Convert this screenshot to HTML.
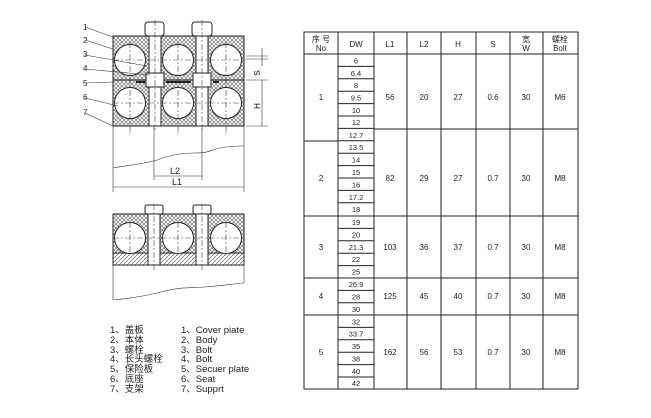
<!DOCTYPE html>
<html><head><meta charset="utf-8"><style>
body{margin:0;background:#fff;width:651px;height:418px;overflow:hidden;position:relative;font-family:"Liberation Sans","Noto Sans CJK SC",sans-serif;}
svg{position:absolute;left:0;top:0}
</style></head><body>
<svg width="651" height="418" viewBox="0 0 651 418" font-family="Liberation Sans, Noto Sans CJK SC, sans-serif">
<defs>
<pattern id="x" width="4" height="4" patternUnits="userSpaceOnUse">
<rect width="4" height="4" fill="#fff"/>
<path d="M0,0L4,4M4,0L0,4" stroke="#777" stroke-width="0.7"/>
</pattern>
<pattern id="d" width="4" height="4" patternUnits="userSpaceOnUse">
<rect width="4" height="4" fill="#fff"/>
<path d="M0,4L4,0" stroke="#666" stroke-width="0.7"/>
</pattern>
</defs>
<!-- upper block -->
<g stroke="#222" stroke-width="1">
<rect x="113" y="36" width="131" height="90" fill="url(#x)"/>
<line x1="113" y1="80" x2="244" y2="80"/>
<g fill="#fff">
<circle cx="130" cy="60" r="15.5"/><circle cx="178" cy="60" r="15.5"/><circle cx="226" cy="60" r="15.5"/>
<circle cx="130" cy="103" r="15.5"/><circle cx="178" cy="103" r="15.5"/><circle cx="226" cy="103" r="15.5"/>
<rect x="149" y="36" width="12" height="90"/><rect x="196" y="36" width="12" height="90"/>
<rect x="145" y="22" width="19" height="14" rx="3"/><rect x="192" y="22" width="20" height="14" rx="3"/>
<rect x="146" y="73" width="18" height="14"/><rect x="193" y="73" width="18" height="14"/>
</g>
<line x1="136" y1="82" x2="145" y2="82" stroke-width="2"/>
<line x1="166" y1="82" x2="191" y2="82" stroke-width="2"/>
<line x1="213" y1="82" x2="219" y2="82" stroke-width="2"/>
</g>
<g stroke="#444" stroke-width="0.6" stroke-dasharray="6,2,2,2">
<line x1="113" y1="60" x2="244" y2="60"/><line x1="113" y1="103" x2="244" y2="103"/>
<line x1="130" y1="42" x2="130" y2="135"/><line x1="178" y1="42" x2="178" y2="135"/><line x1="226" y1="42" x2="226" y2="135"/>
<line x1="155" y1="20" x2="155" y2="130"/><line x1="202" y1="20" x2="202" y2="130"/>
</g>
<g stroke="#333" stroke-width="0.6" fill="none">
<line x1="113" y1="126" x2="113" y2="192"/><line x1="244" y1="126" x2="244" y2="192"/>
<line x1="154" y1="126" x2="154" y2="180"/><line x1="202" y1="126" x2="202" y2="180"/>
<path d="M113,168 C130,165 150,163 160,159 S180,153 195,153 S210,150 220,148 S238,146 244,146"/>
<line x1="154" y1="176" x2="202" y2="176"/><line x1="113" y1="187" x2="244" y2="187"/>
<line x1="246" y1="80" x2="268" y2="80"/><line x1="246" y1="126" x2="268" y2="126"/><line x1="246" y1="56" x2="268" y2="56"/><line x1="246" y1="59" x2="268" y2="59"/>
<line x1="262" y1="80" x2="262" y2="126"/><line x1="262" y1="48" x2="262" y2="66"/>
<path d="M85,27L113,37M85,40L113,49M85,55L147,66M85,69L150,75M85,83L113,82M85,98L118,106M85,113L113,126"/>
</g>
<text x="262" y="106" font-size="8" transform="rotate(-90 262 106)" text-anchor="middle" dy="-2">H</text>
<text x="262" y="73" font-size="8" transform="rotate(-90 262 73)" text-anchor="middle" dy="-2">S</text>
<g font-size="8" fill="#222">
<text x="83" y="30">1</text><text x="83" y="43">2</text><text x="83" y="57">3</text><text x="83" y="71">4</text><text x="83" y="86">5</text><text x="83" y="100">6</text><text x="83" y="115">7</text>
<text x="170" y="174" font-size="9">L2</text><text x="172" y="185" font-size="9">L1</text>
</g>
<!-- lower block -->
<g stroke="#222" stroke-width="1">
<rect x="113" y="214" width="131" height="51" fill="url(#x)"/>
<rect x="113" y="253" width="131" height="12" fill="url(#d)"/>
<g fill="#fff">
<circle cx="130" cy="238" r="15.5"/><circle cx="178" cy="238" r="15.5"/><circle cx="226" cy="238" r="15.5"/>
<rect x="148" y="214" width="12" height="51"/><rect x="196" y="214" width="12" height="51"/>
<rect x="145" y="205" width="18" height="9" rx="2"/><rect x="193" y="205" width="18" height="9" rx="2"/>
</g>
</g>
<g stroke="#444" stroke-width="0.6" stroke-dasharray="6,2,2,2">
<line x1="113" y1="238" x2="244" y2="238"/><line x1="130" y1="222" x2="130" y2="254"/><line x1="178" y1="222" x2="178" y2="254"/><line x1="226" y1="222" x2="226" y2="254"/>
<line x1="154" y1="204" x2="154" y2="272"/><line x1="202" y1="204" x2="202" y2="272"/>
</g>
<g stroke="#333" stroke-width="0.6" fill="none">
<line x1="113" y1="265" x2="113" y2="300"/><line x1="244" y1="265" x2="244" y2="283"/>
<path d="M113,300 C135,298 150,295 165,291 S190,288 205,287 S230,284 244,283"/>
</g>
<g font-size="9.5" fill="#222">
<text x="110" y="333">1、盖板</text><text x="110" y="343">2、本体</text><text x="110" y="353">3、螺栓</text><text x="110" y="362">4、长头螺栓</text><text x="110" y="372">5、保险板</text><text x="110" y="382">6、底座</text><text x="110" y="392">7、支架</text>
<text x="181" y="333">1、Cover piate</text><text x="181" y="343">2、Body</text><text x="181" y="353">3、Bolt</text><text x="181" y="362">4、Bolt</text><text x="181" y="372">5、Secuer plate</text><text x="181" y="382">6、Seat</text><text x="181" y="392">7、Supprt</text>
</g>
<!-- table -->
<g stroke="#222" stroke-width="1" fill="none">
<rect x="304" y="32" width="274" height="357"/>
<line x1="304" y1="54" x2="578" y2="54"/>
<line x1="338" y1="32" x2="338" y2="389"/><line x1="374" y1="32" x2="374" y2="389"/>
<line x1="407" y1="32" x2="407" y2="389"/><line x1="441" y1="32" x2="441" y2="389"/><line x1="476" y1="32" x2="476" y2="389"/><line x1="510" y1="32" x2="510" y2="389"/><line x1="543" y1="32" x2="543" y2="389"/>
<line x1="304" y1="141" x2="338" y2="141"/>
<line x1="374" y1="129" x2="578" y2="129"/>
<line x1="304" y1="216" x2="578" y2="216"/><line x1="304" y1="278" x2="578" y2="278"/><line x1="304" y1="315" x2="578" y2="315"/>
<path d="M338,66.4h36M338,78.8h36M338,91.2h36M338,103.6h36M338,116h36M338,128.4h36M338,140.8h36M338,153.2h36M338,165.6h36M338,178h36M338,190.4h36M338,202.8h36M338,228.4h36M338,240.8h36M338,253.2h36M338,265.6h36M338,290.4h36M338,302.8h36M338,327.4h36M338,339.8h36M338,352.2h36M338,364.6h36M338,377h36"/>
</g>
<g font-size="8" fill="#222" text-anchor="middle">
<text x="321" y="42">序 号</text><text x="321" y="51">No</text><text x="356" y="47">DW</text><text x="390" y="47">L1</text><text x="424" y="47">L2</text><text x="458" y="47">H</text><text x="493" y="47">S</text><text x="526" y="42">宽</text><text x="526" y="51">W</text><text x="560" y="42">螺栓</text><text x="560" y="51">Bolt</text>
<g font-size="7.5">
<text x="356" y="63.5">6</text><text x="356" y="76">6.4</text><text x="356" y="88">8</text><text x="356" y="100.5">9.5</text><text x="356" y="113">10</text><text x="356" y="125">12</text><text x="356" y="138">12.7</text>
<text x="356" y="150">13.5</text><text x="356" y="162.5">14</text><text x="356" y="175">15</text><text x="356" y="187.5">16</text><text x="356" y="200">17.2</text><text x="356" y="212">18</text>
<text x="356" y="225">19</text><text x="356" y="237.5">20</text><text x="356" y="250">21.3</text><text x="356" y="262">22</text><text x="356" y="274.5">25</text>
<text x="356" y="287">26.9</text><text x="356" y="299.5">28</text><text x="356" y="312">30</text>
<text x="356" y="324.5">32</text><text x="356" y="336.5">33.7</text><text x="356" y="349">35</text><text x="356" y="361.5">38</text><text x="356" y="374">40</text><text x="356" y="386">42</text>
</g>
<g>
<text x="321" y="100">1</text><text x="390" y="100">56</text><text x="424" y="100">20</text><text x="458" y="100">27</text><text x="493" y="100">0.6</text><text x="526" y="100">30</text><text x="560" y="100">M6</text>
<text x="321" y="181">2</text><text x="390" y="181">82</text><text x="424" y="181">29</text><text x="458" y="181">27</text><text x="493" y="181">0.7</text><text x="526" y="181">30</text><text x="560" y="181">M8</text>
<text x="321" y="250">3</text><text x="390" y="250">103</text><text x="424" y="250">36</text><text x="458" y="250">37</text><text x="493" y="250">0.7</text><text x="526" y="250">30</text><text x="560" y="250">M8</text>
<text x="321" y="299">4</text><text x="390" y="299">125</text><text x="424" y="299">45</text><text x="458" y="299">40</text><text x="493" y="299">0.7</text><text x="526" y="299">30</text><text x="560" y="299">M8</text>
<text x="321" y="355">5</text><text x="390" y="355">162</text><text x="424" y="355">56</text><text x="458" y="355">53</text><text x="493" y="355">0.7</text><text x="526" y="355">30</text><text x="560" y="355">M8</text>
</g>
</g>
</svg>
</body></html>
